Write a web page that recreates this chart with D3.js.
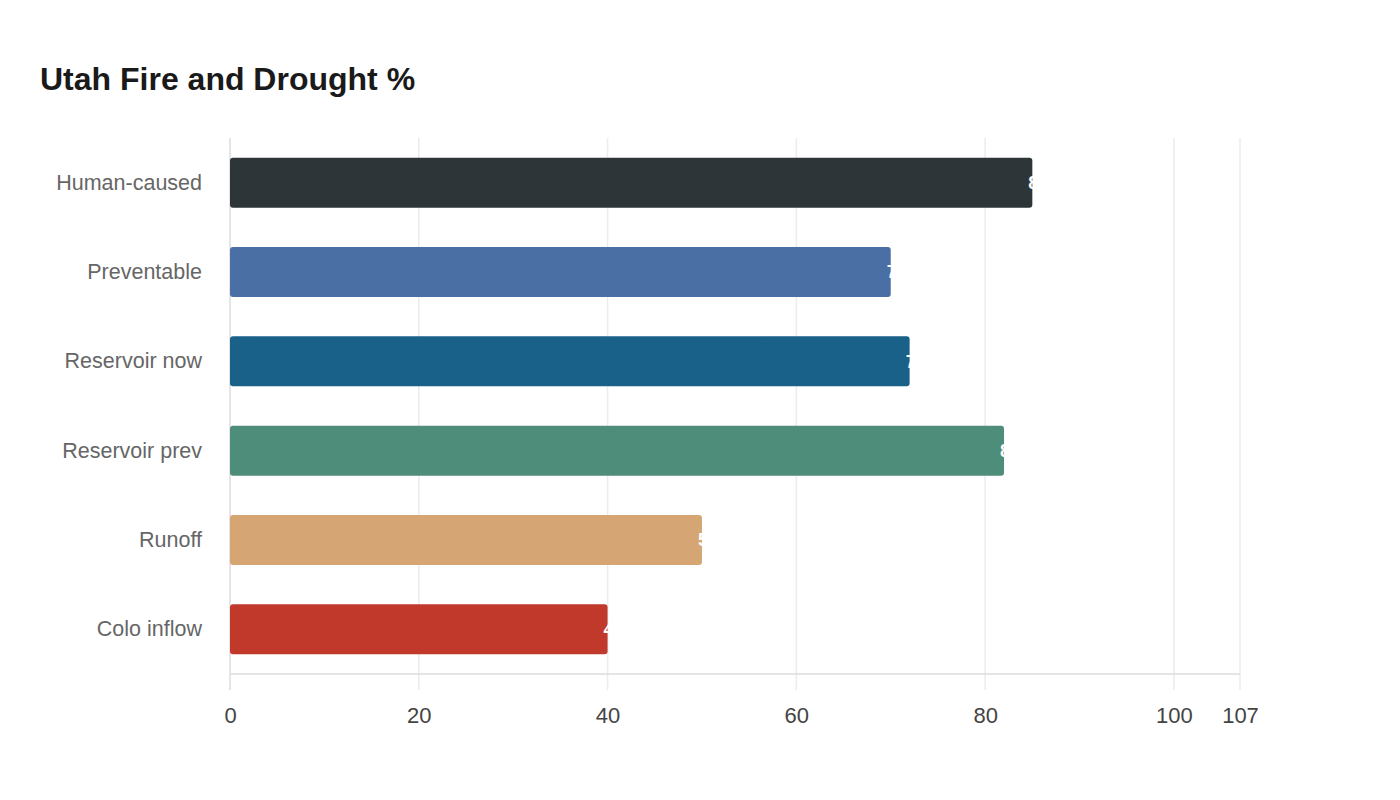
<!DOCTYPE html>
<html>
<head>
<meta charset="utf-8">
<script src="https://cdn.jsdelivr.net/npm/d3@7"></script>
<style>
  body { margin: 0; background: #fff; font-family: "Liberation Sans", Arial, sans-serif; }
</style>
</head>
<body>
<svg id="chart" width="1400" height="800"></svg>
<script>
"use strict";

// Data
var categories = ["Human-caused", "Preventable", "Reservoir now", "Reservoir prev", "Runoff", "Colo inflow"];
var values = [85, 70, 72, 82, 50, 40];
var colors = ["#2d3538", "#4a6fa5", "#1a6189", "#4f8d7b", "#d5a574", "#c0392b"];
var tickValues = [0, 20, 40, 60, 80, 100, 107];

var svg = d3.select("#chart");

var plotLeft = 230, plotRight = 1240, plotTop = 138, plotBottom = 674;

var x = d3.scaleLinear().domain([0, 107]).range([plotLeft, plotRight]);
var y = d3.scaleBand().domain(categories).range([plotTop, plotBottom]).paddingInner(0.44).paddingOuter(0.22);

svg.append("text")
    .attr("x", 40)
    .attr("y", 90)
    .attr("font-size", 32)
    .attr("font-weight", "bold")
    .attr("fill", "#1a1a1a")
    .text("Utah Fire and Drought %");

// Gridlines
svg.append("g")
    .selectAll("line")
    .data(tickValues)
    .join("line")
    .attr("x1", function(d){return x(d);})
    .attr("x2", function(d){return x(d);})
    .attr("y1", plotTop)
    .attr("y2", plotBottom + 16)
    .attr("stroke", function(d){return d === 0 ? "#dcdcdc" : "#ececec";})
    .attr("stroke-width", 1.5);

// Bottom axis line
svg.append("line")
    .attr("x1", plotLeft)
    .attr("x2", plotRight)
    .attr("y1", plotBottom)
    .attr("y2", plotBottom)
    .attr("stroke", "#dddddd")
    .attr("stroke-width", 1.5);

// Bars
svg.append("g")
    .selectAll("rect")
    .data(categories)
    .join("rect")
    .attr("x", x(0))
    .attr("y", function(d){return y(d);})
    .attr("width", function(d, i){return x(values[i]) - x(0);})
    .attr("height", y.bandwidth())
    .attr("rx", 3)
    .attr("fill", function(d, i){return colors[i];});

// Value labels (white, mostly lost past the bar end)
svg.append("g")
    .selectAll("text")
    .data(categories)
    .join("text")
    .attr("x", function(d, i){return x(values[i]) - 4;})
    .attr("y", function(d){return y(d) + y.bandwidth() / 2;})
    .attr("dy", "0.35em")
    .attr("font-size", 18)
    .attr("font-weight", "bold")
    .attr("fill", "#ffffff")
    .text(function(d, i){return values[i];});

// Category labels
var yAxis = svg.append("g")
    .attr("transform", "translate(" + (plotLeft - 28) + ",0)")
    .call(d3.axisLeft(y).tickSize(0).tickPadding(0));
yAxis.select(".domain").remove();
yAxis.selectAll("text")
    .attr("font-size", 21.5)
    .attr("font-family", "Liberation Sans, Arial, sans-serif")
    .attr("fill", "#666666");

// X axis tick labels
var xAxis = svg.append("g")
    .attr("transform", "translate(0," + plotBottom + ")")
    .call(d3.axisBottom(x).tickValues(tickValues).tickSize(0).tickPadding(33).tickFormat(d3.format("d")));
xAxis.select(".domain").remove();
xAxis.selectAll("text")
    .attr("font-size", 22)
    .attr("font-family", "Liberation Sans, Arial, sans-serif")
    .attr("fill", "#444444");
</script>
</body>
</html>
